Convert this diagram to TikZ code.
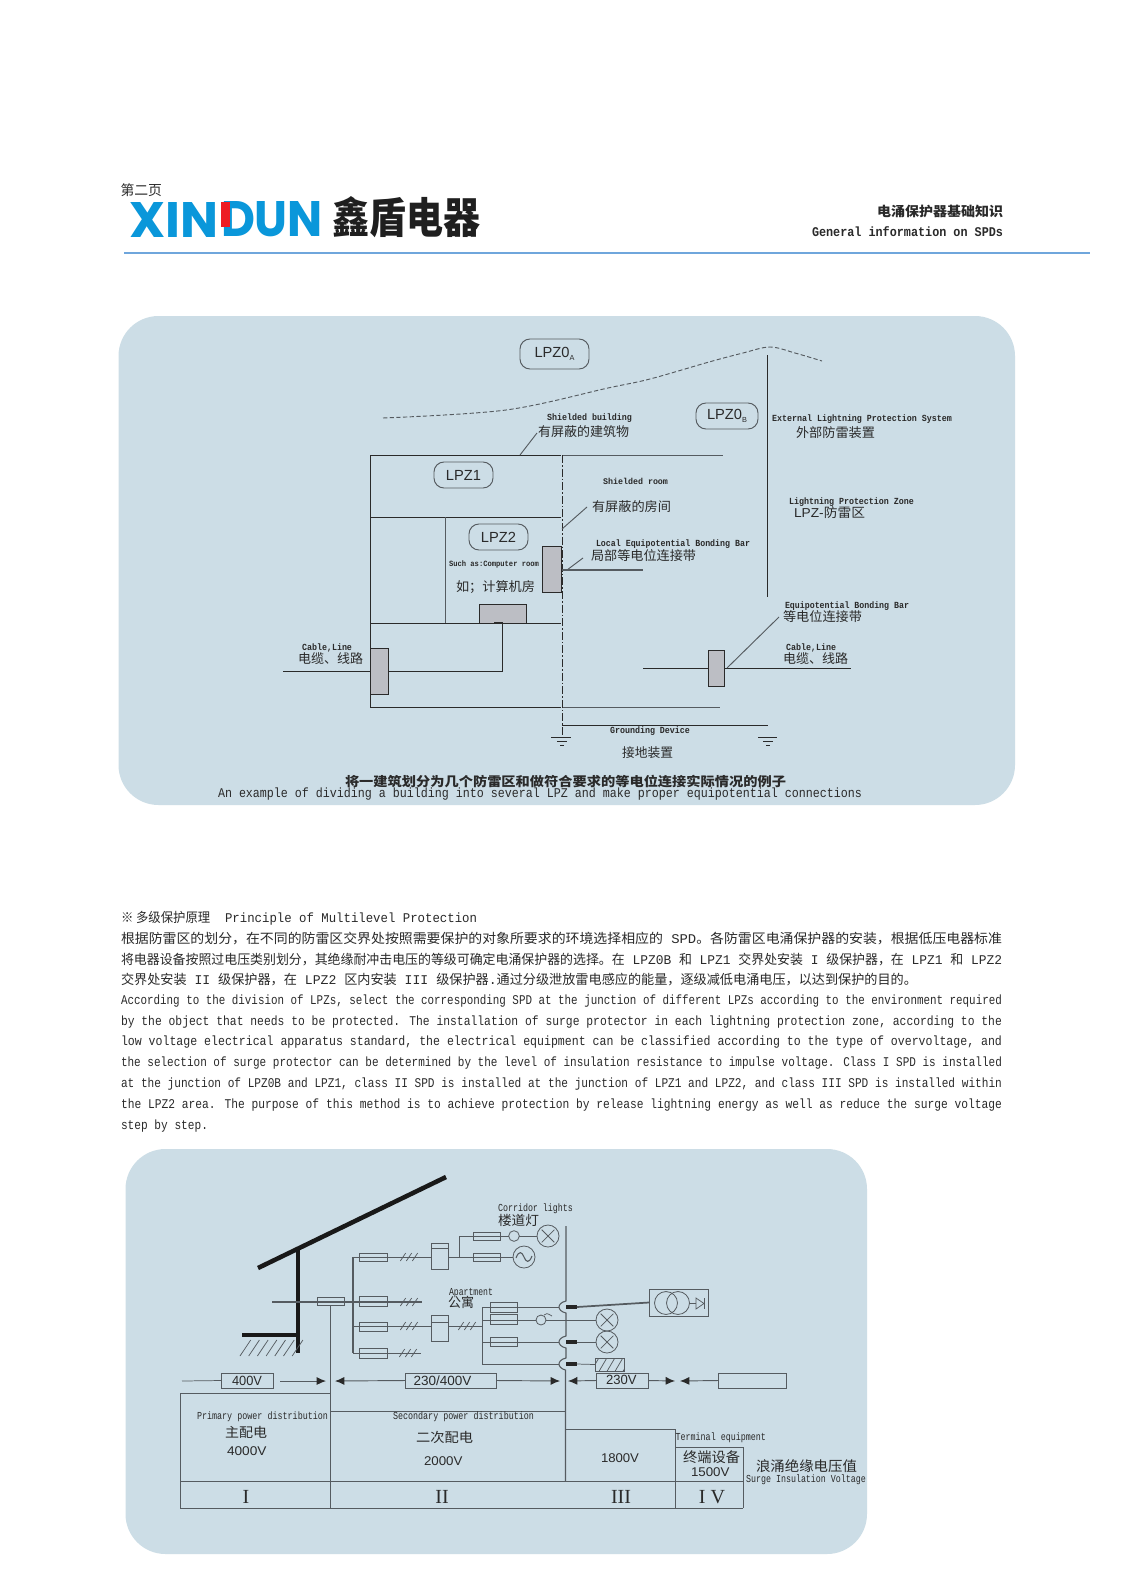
\documentclass[tikz,border=0pt]{standalone}
\usepackage{graphicx}
\usepackage{fontspec}
\usetikzlibrary{arrows.meta}
\setmainfont{Liberation Serif}
\newfontfamily\cn{Noto Sans CJK SC}
\newfontfamily\mono{Liberation Mono}
\newfontfamily\hei{Liberation Sans}
\newfontfamily\logofont{Poppins}
\definecolor{panel}{HTML}{CCDDE6}
\definecolor{logoblue}{HTML}{0A97DA}
\definecolor{logored}{HTML}{ED1C24}
\definecolor{rulecol}{HTML}{6FA6DC}
\definecolor{ink}{HTML}{2A2A2A}
\definecolor{wire}{HTML}{555B60}
\definecolor{spdgrey}{HTML}{BCBEC4}
\newcommand\fsz[1]{\fontsize{#1}{#1}\selectfont}
\newcommand\cnf[1]{\cn\fsz{#1}}
\newcommand\mfn[1]{\mono\fsz{#1}}
\newcommand\mbn[1]{\mono\bfseries\fsz{#1}}
\newcommand\sfn[1]{\hei\fsz{#1}}
% text fitted to a measured width: font, name, x1, x2, y, text
\newcommand\tlab[6]{\pgfmathsetlengthmacro\tww{(#4-#3)*0.75}%
  \node[lbl] (#2) at (#3,#5) {#1\resizebox{\tww}{\height}{#6}};}
% text fitted to a box: font, name, x1, x2, y1, y2, text
\newcommand\tfit[7]{\pgfmathsetlengthmacro\tww{(#4-#3)*0.75}\pgfmathsetlengthmacro\thh{(#6-#5)*0.75}%
  \node[lbl,anchor=south west] (#2) at (#3,#6) {#1\resizebox{\tww}{\thh}{#7}};}
% box: style, name, x1, y1, x2, y2
\newcommand\boxat[6]{\pgfmathsetlengthmacro\bww{(#5-#3)*0.75}\pgfmathsetlengthmacro\bhh{(#6-#4)*0.75}%
  \node[#1,minimum width=\bww,minimum height=\bhh] (#2) at ({(#3+#5)/2},{(#4+#6)/2}) {};}
\newcommand\slashes[2]{\foreach \dx in {-6,0,6}{\draw[thinwire] ({#1+\dx-2.7},{#2+4}) -- ({#1+\dx+2.7},{#2-4});}}
\tikzset{
  lbl/.style={inner sep=0pt,outer sep=0pt,anchor=west,text=ink},
  panelbox/.style={fill=panel,draw=none,rounded corners=30pt,inner sep=0pt},
  pill/.style={draw=wire,line width=0.7pt,rounded corners=7.5pt,inner sep=0pt,text=ink},
  spd/.style={draw=ink,fill=spdgrey,line width=0.7pt,inner sep=0pt,outer sep=0pt},
  fuse/.style={draw=wire,line width=0.6pt,inner sep=0pt,outer sep=0pt},
  vbox/.style={draw=wire,line width=0.7pt,fill=panel,inner sep=0pt,outer sep=0pt},
  line1/.style={draw=ink,line width=0.7pt},
  thinwire/.style={draw=wire,line width=0.55pt},
  lamp/.style={circle,draw=wire,line width=0.6pt,inner sep=0pt,outer sep=0pt},
  blackbar/.style={fill=black!85,draw=none,inner sep=0pt,outer sep=0pt},
  arr/.style={draw=wire,line width=0.7pt,-{Latex[length=7pt,width=6pt,color=ink]}},
  grid/.style={draw=wire,line width=0.7pt},
  thick1/.style={draw=black!90,line width=3.4pt}
}
\begin{document}
\begin{tikzpicture}[x=0.75pt,y=-0.75pt]
\useasboundingbox (0,0) rectangle (1123,1588);
\fill[white] (0,0) rectangle (1123,1588);

% ---- header
\tlab{\cnf{10.5}\color{ink}}{pagenum}{120.5}{162}{190}{第二页}
\tfit{\logofont\bfseries\color{logoblue}}{logoA}{129}{218}{202}{237}{XIN}
\tfit{\logofont\bfseries\color{logoblue}}{logoB}{221}{323}{202}{237}{DUN}
\fill[logored] (221,202) rectangle (230,227);
\tfit{\cn\bfseries\color{black!88}}{logoC}{332}{480}{201}{238}{鑫盾电器}
\tlab{\cnf{10}\bfseries}{headcn}{877}{1003}{211}{电涌保护器基础知识}
\tlab{\mbn{10}}{headen}{812}{1003}{232}{General information on SPDs}
\coordinate (ruleL) at (124,253);
\coordinate (ruleR) at (1090,253);
\draw[rulecol,line width=1.2pt] (ruleL) -- (ruleR);

% ---- panels
\boxat{panelbox}{panelA}{118.5}{316}{1015}{805}
\boxat{panelbox}{panelB}{125.5}{1149}{867}{1554}

% ---- diagram 1
\draw[wire,line width=0.7pt,dash pattern=on 3.2pt off 1.8pt] plot[smooth,tension=0.55] coordinates {(383,418) (506,410) (608,388) (650,379) (709,362) (743,353) (770,347) (795,353) (822,361)};
\draw[line1] (370,455) rectangle (562,707);
\coordinate (topR) at (723,455); \coordinate (botR) at (720,707);
\draw[line1,draw=wire] (562,455) -- (topR);
\draw[line1,draw=wire] (562,707) -- (botR);
\draw[line1] (370,517) -- (562,517);
\draw[line1] (370,623) -- (562,623);
\draw[line1,draw=wire] (445,517) -- (445,623);
\fill[panel] (561,454) rectangle (563,708);
\coordinate (dashT) at (562,455); \coordinate (dashB) at (562,737);
\draw[draw=ink,line width=0.7pt,dash pattern=on 6pt off 1.5pt on 1.2pt off 1.5pt] (dashT) -- (dashB);
\boxat{spd}{spdR}{542}{546}{561}{592}
\boxat{spd}{spdB}{479}{604}{526}{623}
\boxat{spd}{spdL}{370}{648}{388}{694}
\boxat{spd}{spdE}{708}{650}{724}{686}
\coordinate (cableL) at (283,671);
\coordinate (cableC) at (502,671);
\coordinate (cableU) at (502,622);
\coordinate (cableE) at (494,622);
\draw[line1] (cableL) -- (spdL.west);
\draw[line1] (spdL.east) -- (cableC) -- (cableU) -- (cableE);
\coordinate (eL) at (643,668); \coordinate (eR) at (851,668);
\draw[line1] (eL) -- (spdE.west);
\draw[line1] (spdE.east) -- (eR);
\coordinate (eqA) at (727,668); \coordinate (eqB) at (779,617);
\draw[line1,draw=wire] (eqA) -- (eqB);
\coordinate (sbA) at (520,455); \coordinate (sbB) at (537,433);
\draw[line1,draw=wire] (sbA) -- (sbB);
\coordinate (srA) at (562,529); \coordinate (srB) at (587,507);
\draw[line1,draw=wire] (srA) -- (srB);
\coordinate (lbA) at (567,570); \coordinate (lbB) at (583,558);
\draw[line1,draw=wire] (lbA) -- (lbB);
\coordinate (lbC) at (562,570); \coordinate (lbD) at (643,570);
\draw[line1,draw=wire,line width=1pt] (lbC) -- (lbD);
\coordinate (lpsT) at (767,355); \coordinate (lpsB) at (767,597);
\draw[line1] (lpsT) -- (lpsB);
\coordinate (gA) at (562,725); \coordinate (gB) at (768,725);
\draw[line1] (gA) -- (gB);
\draw[line1] (551,737) -- (571,737); \draw[line1] (557,741) -- (567,741); \draw[line1] (560,745) -- (564,745);
\draw[line1] (758,737) -- (777,737); \draw[line1] (763,741) -- (773,741); \draw[line1] (766,745) -- (770,745);

\boxat{pill}{pillA}{520}{339}{589}{369}
\boxat{pill}{pillB}{696}{403}{758}{429}
\boxat{pill}{pillC}{434}{462}{493}{488}
\boxat{pill}{pillD}{469}{524}{528}{550}
\node[lbl,anchor=center,font=\sfn{11}] (tA) at (pillA) {LPZ0\raisebox{-2pt}{\fsz{5.5}A}};
\node[lbl,anchor=center,font=\sfn{11}] (tB) at (pillB) {LPZ0\raisebox{-2pt}{\fsz{5.5}B}};
\node[lbl,anchor=center,font=\sfn{11}] (tC) at (pillC) {LPZ1};
\node[lbl,anchor=center,font=\sfn{11}] (tD) at (pillD) {LPZ2};

\tlab{\mbn{7}}{a1}{547}{632}{418}{Shielded building}
\tlab{\cnf{9.7}}{a2}{538}{629}{432}{有屏蔽的建筑物}
\tlab{\mbn{6.5}}{a3}{603}{668}{481}{Shielded room}
\tlab{\cnf{9.7}}{a4}{592}{671}{507}{有屏蔽的房间}
\tlab{\mbn{7}}{a5}{596}{750}{544}{Local Equipotential Bonding Bar}
\tlab{\cnf{9.7}}{a6}{591}{696}{556}{局部等电位连接带}
\tlab{\mbn{6}}{a7}{449}{539}{564}{Such as:Computer room}
\tlab{\cnf{9.7}}{a8}{456}{535}{587}{如；计算机房}
\tlab{\mbn{7}}{a9}{302}{352}{648}{Cable,Line}
\tlab{\cnf{9.7}}{a10}{298}{363}{659}{电缆、线路}
\tlab{\mbn{7}}{a11}{610}{690}{731}{Grounding Device}
\tlab{\cnf{9.7}}{a12}{622}{673}{753}{接地装置}
\tlab{\mbn{7}}{a13}{772}{952}{419}{External Lightning Protection System}
\tlab{\cnf{9.7}}{a14}{796}{875}{433}{外部防雷装置}
\tlab{\mbn{7}}{a15}{789}{914}{502}{Lightning Protection Zone}
\tlab{\cnf{9.7}}{a16}{794}{865}{513}{{\hei LPZ-}防雷区}
\tlab{\mbn{7}}{a17}{785}{909}{606}{Equipotential Bonding Bar}
\tlab{\cnf{9.7}}{a18}{783}{862}{617}{等电位连接带}
\tlab{\mbn{7}}{a19}{786}{836}{648}{Cable,Line}
\tlab{\cnf{9.7}}{a20}{783}{848}{659}{电缆、线路}
\tlab{\cnf{9.7}\bfseries}{a21}{345}{786}{782}{将一建筑划分为几个防雷区和做符合要求的等电位连接实际情况的例子}
\tlab{\mfn{10}}{a22}{218}{862}{794}{An example of dividing a building into several LPZ and make proper equipotential connections}

% ---- body text
\tlab{\mfn{10}}{b0}{121}{477}{918}{{\cnf{10}※ 多级保护原理}\ \ Principle of Multilevel Protection}
\tlab{\mfn{10}}{b1}{121}{1002}{938.5}{{\cnf{10}根据防雷区的划分，在不同的防雷区交界处按照需要保护的对象所要求的环境选择相应的} SPD{\cnf{10}。各防雷区电涌保护器的安装，根据低压电器标准}}
\tlab{\mfn{10}}{b2}{121}{1002}{959.5}{{\cnf{10}将电器设备按照过电压类别划分，其绝缘耐冲击电压的等级可确定电涌保护器的选择。在} LPZ0B {\cnf{10}和} LPZ1 {\cnf{10}交界处安装} I {\cnf{10}级保护器，在} LPZ1 {\cnf{10}和} LPZ2}
\tlab{\mfn{10}}{b3}{121}{917}{980}{{\cnf{10}交界处安装} II {\cnf{10}级保护器，在} LPZ2 {\cnf{10}区内安装} III {\cnf{10}级保护器}.{\cnf{10}通过分级泄放雷电感应的能量，逐级减低电涌电压，以达到保护的目的。}}
\tlab{\mfn{10}}{b4}{121}{1002}{1001.5}{According to the division of LPZs, select the corresponding SPD at the junction of different LPZs according to the environment required}
\tlab{\mfn{10}}{b5}{121}{1002}{1022}{by the object that needs to be protected. The installation of surge protector in each lightning protection zone, according to the}
\tlab{\mfn{10}}{b6}{121}{1002}{1042.5}{low voltage electrical apparatus standard, the electrical equipment can be classified according to the type of overvoltage, and}
\tlab{\mfn{10}}{b7}{121}{1002}{1063.5}{the selection of surge protector can be determined by the level of insulation resistance to impulse voltage. Class I SPD is installed}
\tlab{\mfn{10}}{b8}{121}{1002}{1084}{at the junction of LPZ0B and LPZ1, class II SPD is installed at the junction of LPZ1 and LPZ2, and class III SPD is installed within}
\tlab{\mfn{10}}{b9}{121}{1002}{1105}{the LPZ2 area. The purpose of this method is to achieve protection by release lightning energy as well as reduce the surge voltage}
\tlab{\mfn{10}}{b10}{121}{208}{1126.5}{step by step.}

% ---- diagram 2: building
\coordinate (roofA) at (258,1268); \coordinate (roofB) at (446,1177);
\draw[thick1] (roofA) -- (roofB);
\coordinate (wallT) at (298,1250); \coordinate (wallB) at (298,1353);
\draw[thick1] (wallT) -- (wallB);
\coordinate (gndL) at (242,1335); \coordinate (gndR) at (298,1335);
\draw[thick1] (gndL) -- (gndR);
\foreach \i in {0,...,6}{\draw[thinwire] ({240+\i*8.7},1356) -- ({250.7+\i*8.7},1340);}

% feeders
\coordinate (feedL) at (272,1302); \coordinate (feedR) at (422,1302);
\draw[thinwire,line width=0.8pt] (feedL) -- (feedR);
\boxat{fuse}{fuseM}{317}{1297}{344}{1305}
\coordinate (busT) at (353,1257); \coordinate (busB) at (353,1353);
\draw[thinwire,line width=0.8pt] (busT) -- (busB);
\boxat{fuse}{boxA}{431}{1243}{448}{1269}
\boxat{fuse}{boxB}{431}{1315}{448}{1341}
\draw[thinwire] (431,1248) -- (448,1248);
\draw[thinwire] (431,1322) -- (448,1322);
\draw[thinwire] (busT) -- (431,1257);
\coordinate (busM) at (353,1326);
\draw[thinwire] (busM) -- (431,1326);
\coordinate (br4) at (421,1353);
\draw[thinwire] (busB) -- (br4);
\boxat{fuse}{f1}{359}{1253}{387}{1261}
\boxat{fuse}{f2}{359}{1296}{387}{1306}
\boxat{fuse}{f3}{359}{1322}{387}{1331}
\boxat{fuse}{f4}{359}{1348}{387}{1358}
\slashes{409}{1257}\slashes{409}{1302}\slashes{409}{1326}\slashes{408}{1353}

% corridor lights
\coordinate (jA) at (459,1257); \coordinate (jB) at (459,1236);
\node[lamp,minimum size=16.5pt] (lampA) at (548,1236) {};
\node[lamp,minimum size=16.5pt] (lampB) at (524,1257) {};
\node[lamp,fill=panel,minimum size=8pt] (swA) at (514,1236) {};
\draw[thinwire] (448,1257) -- (lampB.west);
\draw[thinwire] (jA) -- (jB) -- (swA.west);
\draw[thinwire] (swA.east) -- (lampA.west);
\boxat{fuse}{f5}{473}{1232}{500}{1240}
\boxat{fuse}{f6}{473}{1253}{500}{1261}
\draw[thinwire,shorten <=1.6pt,shorten >=1.6pt] (lampA.north west) -- (lampA.south east);
\draw[thinwire,shorten <=1.6pt,shorten >=1.6pt] (lampA.north east) -- (lampA.south west);
\draw[thinwire,line width=0.8pt] (516,1258) .. controls (519,1250) and (522,1252) .. (524,1257) .. controls (526,1262) and (529,1264) .. (532,1256);

% apartment
\coordinate (aptL) at (448,1326); \coordinate (aptB) at (482,1326);
\draw[thinwire] (aptL) -- (aptB);
\slashes{467}{1326}
\coordinate (aptT) at (482,1307); \coordinate (aptE) at (482,1364);
\draw[thinwire] (aptT) -- (aptE);
\boxat{fuse}{f7}{490}{1302}{517}{1312}
\boxat{fuse}{f8}{490}{1314}{517}{1324}
\boxat{fuse}{f9}{490}{1337}{517}{1346}
\coordinate (bumpA) at (559,1307); \coordinate (bumpB) at (559,1342); \coordinate (bumpC) at (559,1364);
\draw[thinwire] (aptT) -- (bumpA);
\draw[thinwire] (482,1342) -- (bumpB);
\draw[thinwire] (aptE) -- (bumpC);
\node[lamp,minimum size=16.5pt] (lampC) at (607,1320) {};
\node[lamp,minimum size=16.5pt] (lampD) at (607,1342) {};
\draw[thinwire] (482,1320) -- (lampC.west);
\node[lamp,fill=panel,minimum size=7.5pt] (swB) at (541,1320) {};
\draw[thinwire] (544,1315) .. controls (546,1313) and (547,1313) .. (552,1316);
\foreach \l in {lampC,lampD}{
  \draw[thinwire,shorten <=1.6pt,shorten >=1.6pt] (\l.north west) -- (\l.south east);
  \draw[thinwire,shorten <=1.6pt,shorten >=1.6pt] (\l.north east) -- (\l.south west);
}
\boxat{fuse}{hatchbox}{595}{1358}{624}{1371}
\begin{scope}
\clip (595,1358) rectangle (624,1371);
\foreach \i in {0,...,4}{\draw[thinwire] ({590+\i*8},1373) -- ({600+\i*8},1356);}
\end{scope}
\boxat{blackbar}{barA}{566}{1305}{577}{1309}
\boxat{blackbar}{barB}{566}{1340}{577}{1344}
\boxat{blackbar}{barC}{566}{1362}{577}{1366}
\draw[thinwire] (barB.east) -- (lampD.west);
\draw[thinwire] (barC.east) -- (hatchbox.west);
% main bus with bumps
\draw[thinwire,line width=0.8pt] (566,1226) -- (566,1301) .. controls (561,1302) and (559,1305) .. (bumpA) .. controls (559,1309) and (561,1312) .. (566,1313) -- (566,1336) .. controls (561,1337) and (559,1340) .. (bumpB) .. controls (559,1344) and (561,1347) .. (566,1348) -- (566,1358) .. controls (561,1359) and (559,1362) .. (bumpC) .. controls (559,1366) and (561,1369) .. (565.5,1370) -- (565.5,1481);
% transformer
\boxat{fuse}{trafo}{649}{1289}{708}{1316}
\draw[wire,line width=1.3pt] (barA.east) -- (trafo.west);
\node[lamp,minimum size=17.2pt] (coilA) at (666,1303) {};
\node[lamp,minimum size=17.2pt] (coilB) at (678,1303) {};
\draw[thinwire] (coilB.east) -- (696,1303);
\draw[thinwire] (696,1298) -- (704,1303.5) -- (696,1309) -- cycle;
\draw[thinwire] (704.5,1298) -- (704.5,1309);

% table
\draw[grid] (180,1508) -- (180,1393) -- (331,1393);
\draw[grid] (330.5,1305) -- (330.5,1508);
\draw[grid] (331,1411) -- (566,1411);
\draw[grid] (566,1429) -- (675,1429);
\draw[grid] (675,1429) -- (675,1508);
\draw[grid] (675,1447) -- (743,1447) -- (743,1508);
\draw[grid] (180,1481) -- (743,1481);
\draw[grid] (180,1508) -- (743,1508);

% voltage row
\boxat{vbox}{v400}{221.6}{1373}{273}{1388}
\boxat{vbox}{v230400}{405.5}{1373}{496.6}{1388}
\boxat{vbox}{v230}{596}{1373}{648}{1388}
\boxat{vbox}{vempty}{718}{1373}{786}{1388}
\coordinate (rL) at (182,1381); \coordinate (rA) at (280,1381); \coordinate (rB) at (326,1381);
\coordinate (rC) at (335,1381); \coordinate (rD) at (560,1381); \coordinate (rE) at (568,1381);
\coordinate (rF) at (675,1381); \coordinate (rG) at (680,1381);
\draw[thinwire] (rL) -- (v400.west);
\draw[arr] (rA) -- (rB);
\draw[arr] (v230400.west) -- (rC);
\draw[arr] (v230400.east) -- (rD);
\draw[arr] (v230.west) -- (rE);
\draw[arr] (v230.east) -- (rF);
\draw[arr] (vempty.west) -- (rG);

% diagram 2 texts
\tlab{\mfn{8}}{c1}{498}{573}{1209}{Corridor lights}
\tlab{\cnf{10}}{c2}{498}{539}{1220}{楼道灯}
\tlab{\mfn{8}}{c3}{449}{493}{1293}{Apartment}
\tlab{\cnf{10}}{c4}{448}{474}{1302}{公寓}
\tlab{\sfn{10}}{c5}{232}{262}{1381}{400V}
\tlab{\sfn{10}}{c6}{413.6}{471.5}{1381}{230/400V}
\tlab{\sfn{10}}{c7}{606}{636.5}{1380}{230V}
\tlab{\mfn{8}}{c8}{197}{328}{1417}{Primary power distribution}
\tlab{\cnf{10}}{c9}{225}{267}{1432}{主配电}
\tlab{\sfn{9.5}}{c10}{227}{266.5}{1451}{4000V}
\tlab{\mfn{8}}{c11}{393}{534}{1417}{Secondary power distribution}
\tlab{\cnf{10}}{c12}{416}{473}{1437}{二次配电}
\tlab{\sfn{9.5}}{c13}{424}{462.5}{1461}{2000V}
\tlab{\sfn{9.5}}{c14}{601}{639}{1458}{1800V}
\tlab{\mfn{8}}{c15}{675.6}{766}{1438}{Terminal equipment}
\tlab{\cnf{10.5}}{c16}{683}{740}{1457}{终端设备}
\tlab{\sfn{9.5}}{c17}{691}{729.5}{1472}{1500V}
\tlab{\cnf{10.5}}{c18}{756}{857}{1466}{浪涌绝缘电压值}
\tlab{\mfn{8}}{c19}{746}{866}{1480}{Surge Insulation Voltage}
\node[lbl,anchor=center,font=\rmfamily\fsz{15}] (r1) at (246,1497) {I};
\node[lbl,anchor=center,font=\rmfamily\fsz{15}] (r2) at (442,1497) {II};
\node[lbl,anchor=center,font=\rmfamily\fsz{15}] (r3) at (621,1497) {III};
\node[lbl,anchor=center,font=\rmfamily\fsz{15}] (r4) at (712,1497) {I V};
\end{tikzpicture}
\end{document}
